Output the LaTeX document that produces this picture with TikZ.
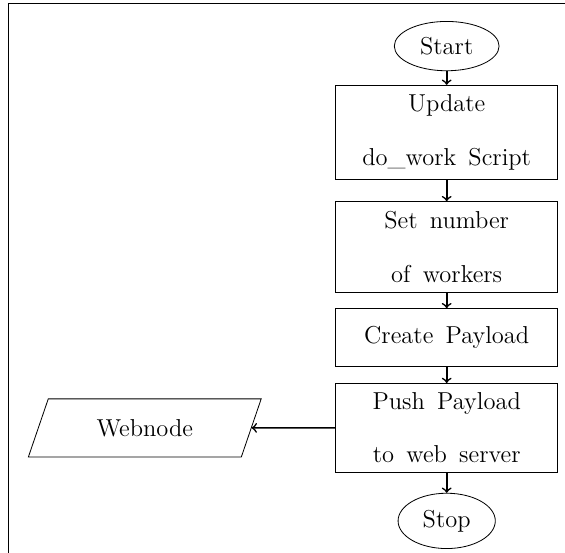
\documentclass[tikz,border=0pt]{standalone}
\usetikzlibrary{shapes.geometric,positioning}
\begin{document}
\begin{tikzpicture}
        [node distance=7.8pt,
        every node/.style={font={\large\spaceskip=6pt plus 1pt minus 1pt\relax}},
        startstop/.style={ellipse,draw=black,inner xsep=5.1pt,inner ysep=4.2pt},
        process/.style={rectangle,draw=black,minimum width=108.8pt,minimum height=1cm,
          inner ysep=4.6pt,align=center},
        io/.style={trapezium,trapezium left angle=70,trapezium right angle=110,
          trapezium stretches=true,minimum width=114.7pt,minimum height=1cm,draw=black},
        arrow/.style={thick,->}]
        \useasboundingbox (0,0) rectangle (277pt,-271pt);
        % frame
        \draw (4pt,-271pt) -- (4pt,-1.5pt) -- (277pt,-1.5pt);
        \node[startstop] (start) at (219pt,-22.6pt) {Start};
        \node[process,below=6.7pt of start] (update) {Update\\[12.5pt]do\_work Script};
        \node[process,below=10.3pt of update] (workers) {Set number\\[12.5pt]of workers};
        \node[process,below=of workers] (payload) {Create Payload};
        \node[process,below=of payload] (push) {Push Payload\\[12pt]to web server};
        \node[io,left=41pt of push] (webnode) {Webnode};
        \node[startstop,below=9.8pt of push] (stop) {Stop};
        \draw[arrow] (start) -- (update);
        \draw[arrow] (update) -- (workers);
        \draw[arrow] (workers) -- (payload);
        \draw[arrow] (payload) -- (push);
        \draw[arrow] (push) -- (webnode);
        \draw[arrow] (push) -- (stop);
      \end{tikzpicture}
\end{document}
